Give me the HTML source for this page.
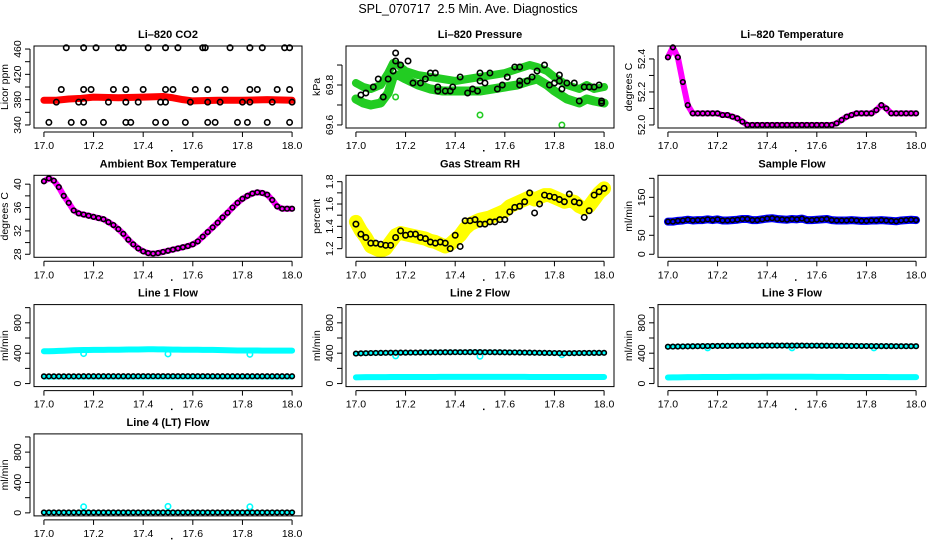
<!DOCTYPE html>
<html><head><meta charset="utf-8">
<style>
html,body{margin:0;padding:0;background:#fff;}
svg{display:block;font-family:"Liberation Sans",Arial,sans-serif;}
</style></head>
<body>
<svg id="c" width="936" height="540" viewBox="0 0 936 540">
<text x="468" y="13" text-anchor="middle" font-size="12.5" xml:space="preserve" style="white-space:pre">SPL_070717  2.5 Min. Ave. Diagnostics</text>
</svg>
<script>
// shared time axis (hour of day)
const T = [17.00,17.02,17.04,17.06,17.08,17.10,17.12,17.14,17.16,17.18,17.20,17.22,17.24,17.26,17.28,17.30,17.32,17.34,17.36,17.38,17.40,17.42,17.44,17.46,17.48,17.50,17.52,17.54,17.56,17.58,17.60,17.62,17.64,17.66,17.68,17.70,17.72,17.74,17.76,17.78,17.80,17.82,17.84,17.86,17.88,17.90,17.92,17.94,17.96,17.98,18.00];
const xTicks = [17.0,17.2,17.4,17.6,17.8,18.0];
const xTickLabels = ["17.0","17.2","17.4","17.6","17.8","18.0"];

// CO2
const co2BandT = [17.00,17.05,17.10,17.15,17.20,17.30,17.40,17.48,17.52,17.56,17.60,17.70,17.80,17.90,18.00];
const co2BandV = [379,379,381,382,384,383,384,385,383,380,378,379,379,380,379];
const co2T = [17.09,17.16,17.21,17.30,17.32,17.42,17.49,17.54,17.64,17.65,17.75,17.83,17.88,17.97,17.99,
 17.07,17.16,17.19,17.28,17.33,17.40,17.49,17.52,17.61,17.66,17.73,17.83,17.86,17.94,17.99,
 17.05,17.14,17.16,17.26,17.33,17.38,17.47,17.49,17.59,17.66,17.71,17.80,17.83,17.92,18.00,
 17.02,17.11,17.16,17.24,17.33,17.35,17.45,17.49,17.57,17.66,17.69,17.78,17.82,17.90,17.99];
const co2V = [462,462,462,462,462,462,462,462,462,462,462,462,462,462,462,
 396,396,396,396,396,396,396,396,396,396,396,396,396,396,396,
 376,376,376,376,376,376,376,376,376,376,376,376,376,376,376,
 344,344,344,344,344,344,344,344,344,344,344,344,344,344,344];

// Pressure
const presUpT = [17.00,17.03,17.06,17.10,17.13,17.15,17.17,17.20,17.25,17.30,17.35,17.40,17.45,17.50,17.55,17.60,17.65,17.70,17.73,17.77,17.80,17.85,17.90,17.93,17.96,18.00];
const presUpV = [69.81,69.79,69.78,69.80,69.86,69.91,69.90,69.87,69.85,69.84,69.83,69.82,69.83,69.84,69.85,69.86,69.88,69.90,69.89,69.87,69.84,69.80,69.78,69.80,69.78,69.79];
const presLoT = [17.00,17.03,17.06,17.10,17.13,17.15,17.17,17.20,17.25,17.30,17.35,17.40,17.45,17.50,17.55,17.60,17.65,17.70,17.73,17.77,17.80,17.85,17.90,17.93,17.96,18.00];
const presLoV = [69.73,69.71,69.70,69.71,69.76,69.84,69.85,69.83,69.80,69.78,69.77,69.77,69.77,69.77,69.78,69.79,69.80,69.82,69.83,69.80,69.77,69.73,69.71,69.73,69.72,69.71];
const presBT = [17.02,17.04,17.07,17.09,17.11,17.13,17.15,17.16,17.16,17.18,17.21,17.23,17.26,17.28,17.30,17.32,17.33,17.33,17.36,17.38,17.39,17.42,17.45,17.47,17.49,17.50,17.50,17.52,17.54,17.57,17.59,17.61,17.64,17.66,17.66,17.66,17.69,17.71,17.73,17.76,17.78,17.80,17.82,17.82,17.83,17.85,17.88,17.90,17.92,17.94,17.96,17.98,17.99,17.99];
const presBV = [69.75,69.76,69.79,69.83,69.74,69.83,69.87,69.96,69.92,69.90,69.92,69.81,69.81,69.83,69.86,69.86,69.79,69.77,69.77,69.77,69.79,69.84,69.76,69.78,69.77,69.86,69.82,69.81,69.86,69.78,69.80,69.84,69.89,69.89,69.82,69.80,69.82,69.84,69.87,69.90,69.80,69.81,69.85,69.82,69.78,69.81,69.81,69.72,69.79,69.79,69.79,69.80,69.71,69.72];
const presOutT = [17.16,17.50,17.83];
const presOutV = [69.74,69.65,69.60];

// Li-820 temperature
const tempV = [52.41,52.47,52.41,52.26,52.12,52.07,52.07,52.07,52.07,52.07,52.07,52.06,52.06,52.05,52.04,52.02,52.00,
 52.00,52.00,52.00,52.00,52.00,52.00,52.00,52.00,52.00,52.00,52.00,52.00,52.00,52.00,52.00,52.00,52.00,
 52.01,52.03,52.05,52.06,52.07,52.07,52.07,52.07,52.09,52.12,52.10,52.07,52.07,52.07,52.07,52.07,52.07];

// Ambient box temperature
const ambV = [40.5,41.0,40.6,39.5,38.0,36.8,35.5,35.0,34.8,34.6,34.4,34.2,34.0,33.5,33.0,32.3,31.5,30.5,29.7,29.0,28.5,28.2,28.1,28.2,28.4,28.6,28.8,29.0,29.2,29.4,29.7,30.2,31.0,31.8,32.6,33.4,34.3,35.1,36.0,36.8,37.5,38.0,38.4,38.6,38.5,38.2,37.3,36.2,35.8,35.8,35.8];

// Gas stream RH
const rhV = [1.42,1.33,1.30,1.25,1.25,1.24,1.23,1.23,1.30,1.36,1.32,1.33,1.33,1.30,1.29,1.26,1.25,1.26,1.25,1.20,1.32,1.22,1.45,1.45,1.46,1.42,1.42,1.44,1.44,1.46,1.46,1.53,1.57,1.58,1.62,1.70,1.52,1.60,1.68,1.67,1.66,1.64,1.62,1.69,1.62,1.61,1.48,1.54,1.68,1.71,1.74];
const rhBand = [1.44,1.36,1.30,1.22,1.20,1.18,1.20,1.26,1.32,1.34,1.33,1.32,1.31,1.30,1.29,1.27,1.26,1.24,1.22,1.24,1.28,1.32,1.38,1.42,1.44,1.46,1.47,1.48,1.50,1.52,1.54,1.58,1.60,1.62,1.64,1.66,1.64,1.66,1.68,1.68,1.66,1.64,1.62,1.63,1.62,1.58,1.56,1.58,1.64,1.70,1.74];

// Sample flow
const sampV = [86,86,88,89,91,89,90,90,92,90,92,89,89,90,91,93,93,90,90,92,94,95,93,92,91,93,92,94,90,90,91,92,93,90,89,89,89,90,89,88,88,89,89,90,89,88,87,89,90,91,90];

// Line flows
const l1High = [425,425,428,430,432,435,438,440,442,442,443,444,444,445,446,446,447,448,448,449,450,452,452,451,450,448,447,447,446,446,445,445,444,444,443,442,440,438,437,436,436,436,435,435,434,434,434,434,434,434,434];
const l1Low = [85,86,86,86,86,86,86,86,86,86,86,86,86,86,86,86,86,86,86,86,86,86,86,86,86,86,86,86,86,86,86,86,86,86,86,86,86,86,86,86,86,86,86,86,86,86,86,86,86,86,86];
const l1Black = [95,95,95,95,95,95,95,95,96,96,96,96,96,96,96,96,96,96,96,97,97,97,97,97,97,97,97,97,97,97,97,97,97,97,96,96,96,96,96,96,96,96,96,96,96,96,96,96,96,96,96];
const l2Black = [395,398,400,402,403,404,405,406,406,407,407,408,408,409,410,410,411,411,412,412,413,413,413,414,414,414,413,413,412,412,411,410,410,409,408,407,406,405,404,403,402,401,400,400,401,402,403,403,404,404,405];
const l2Low = [82,83,84,84,85,85,85,86,86,86,86,86,87,87,87,87,87,88,88,88,88,88,88,88,88,88,88,88,88,88,88,88,88,88,88,87,87,87,87,87,86,86,86,86,86,86,86,86,86,86,86];
const l3Black = [485,487,488,489,490,491,492,493,494,495,495,496,496,497,497,498,498,499,499,499,500,500,500,500,500,500,500,500,499,499,499,498,498,497,497,496,496,495,495,494,494,494,493,493,493,493,492,492,492,492,492];
const l3Low = [80,81,82,83,84,84,85,86,86,86,87,87,87,88,88,88,88,88,88,89,89,89,89,89,89,89,89,89,89,89,88,88,88,88,88,88,87,87,87,87,86,86,86,86,86,85,85,85,85,85,85];
const l4Black = [5,5,5,5,5,5,5,5,5,5,5,5,5,5,5,5,5,5,5,5,5,5,5,5,5,5,5,5,5,5,5,5,5,5,5,5,5,5,5,5,5,5,5,5,5,5,5,5,5,5,5];
const lineOutT = [17.16,17.50,17.83];
const l1OutV = [395,390,385];
const l2OutV = [365,360,380];
const l3OutV = [470,470,470];
const l4OutV = [80,85,80];

const NS = "http://www.w3.org/2000/svg";
const svg = document.getElementById("c");
function mk(tag, attrs, parent) {
  const e = document.createElementNS(NS, tag);
  for (const k in attrs) e.setAttribute(k, attrs[k]);
  (parent || svg).appendChild(e);
  return e;
}

function panel(col, row, opts) {
  const g = mk("g", {});
  
  
  const x0 = 34 + 312 * col, w = 268;
  const y0 = 46 + 129.3 * row, h = 82;
  const xl = 17.0, xr = 18.0, xp = (xr - xl) * 0.04;
  const yl = opts.ylim[0], yh = opts.ylim[1], yp = (yh - yl) * 0.04;
  const sx = v => x0 + (v - (xl - xp)) / ((xr - xl) + 2 * xp) * w;
  const sy = v => y0 + h - (v - (yl - yp)) / ((yh - yl) + 2 * yp) * h;
  const t = mk("text", {x: x0 + w / 2, y: y0 - 8, "text-anchor": "middle", "font-size": "11", "font-weight": "bold"}, g);
  t.textContent = opts.title;
  
  
  const clip = mk("g", {}, g);
  opts.draw(clip, sx, sy);
  const box = mk("rect", {x: x0, y: y0, width: w, height: h, fill: "none", stroke: "#000", "stroke-width": "1"}, g);
  
  
  // x axis
  const xa = mk("g", {}, g);
  
  
  mk("line", {x1: sx(17.0), x2: sx(18.0), y1: y0 + h + 4, y2: y0 + h + 4, stroke: "#000"}, xa);
  xTicks.forEach((v, i) => {
    mk("line", {x1: sx(v), x2: sx(v), y1: y0 + h + 4, y2: y0 + h + 9, stroke: "#000"}, xa);
    const tl = mk("text", {x: sx(v), y: y0 + h + 21, "text-anchor": "middle", "font-size": "10.5"}, xa);
    tl.textContent = xTickLabels[i];
    
    
  });
  mk("rect", {x: x0 + w / 2 + 3, y: y0 + h + 22, width: 1.5, height: 1.5, fill: "#000"}, xa);
  // y axis
  const ya = mk("g", {}, g);
  
  
  const yt = opts.yticks;
  mk("line", {x1: x0 - 4, x2: x0 - 4, y1: sy(yt[0]), y2: sy(yt[yt.length - 1]), stroke: "#000"}, ya);
  yt.forEach(v => {
    mk("line", {x1: x0 - 4, x2: x0 - 9, y1: sy(v), y2: sy(v), stroke: "#000"}, ya);
  });
  opts.ylabels.forEach((v, i) => {
    const yy = sy(v), xx = x0 - 13;
    const tl = mk("text", {x: xx, y: yy, "text-anchor": "middle", "font-size": "10.5", transform: "rotate(-90 " + xx + " " + yy + ")"}, ya);
    tl.textContent = opts.ylabelText[i];
    
    
  });
  const yx = x0 - 26, yy = y0 + h / 2;
  const ylab = mk("text", {x: yx, y: yy, "text-anchor": "middle", "font-size": "10.5", transform: "rotate(-90 " + yx + " " + yy + ")"}, ya);
  ylab.textContent = opts.ylab;
  
  
}

function band(g, xs, ys, sx, sy, color, width, name) {
  const p = mk("polyline", {points: xs.map((x, i) => sx(x) + "," + sy(ys[i])).join(" "), fill: "none", stroke: color, "stroke-width": width, "stroke-linejoin": "round", "stroke-linecap": "round"}, g);
  
  
}
function pts(g, xs, ys, sx, sy, color, name, r) {
  xs.forEach((x, i) => {
    const c = mk("circle", {cx: sx(x), cy: sy(ys[i]), r: r || 2.7, fill: "none", stroke: color, "stroke-width": "1.6"}, g);
    
    
  });
}

panel(0, 0, {name: "co2-panel", title: "Li\u2013820 CO2", ylab: "Licor ppm", ylim: [340, 460],
  yticks: [340, 360, 380, 400, 420, 440, 460], ylabels: [340, 380, 420, 460], ylabelText: ["340", "380", "420", "460"],
  draw: (g, sx, sy) => { band(g, co2BandT, co2BandV, sx, sy, "#ff0000", 7, "co2-series"); pts(g, co2T, co2V, sx, sy, "#000", "co2-point"); }});

panel(1, 0, {name: "pressure-panel", title: "Li\u2013820 Pressure", ylab: "kPa", ylim: [69.6, 69.98],
  yticks: [69.6, 69.7, 69.8, 69.9], ylabels: [69.6, 69.8], ylabelText: ["69.6", "69.8"],
  draw: (g, sx, sy) => {
    band(g, presUpT, presUpV, sx, sy, "#22cc22", 8, "pressure-upper-band");
    band(g, presLoT, presLoV, sx, sy, "#22cc22", 9, "pressure-lower-band");
    pts(g, presOutT, presOutV, sx, sy, "#22cc22", "pressure-outlier");
    pts(g, presBT, presBV, sx, sy, "#000", "pressure-point"); }});

panel(2, 0, {name: "li820-temp-panel", title: "Li\u2013820 Temperature", ylab: "degrees C", ylim: [52.0, 52.46],
  yticks: [52.0, 52.1, 52.2, 52.3, 52.4], ylabels: [52.0, 52.2, 52.4], ylabelText: ["52.0", "52.2", "52.4"],
  draw: (g, sx, sy) => { band(g, T, tempV, sx, sy, "#ff00ff", 6, "temp-series"); pts(g, T, tempV, sx, sy, "#000", "temp-point", 2.3); }});

panel(0, 1, {name: "ambient-temp-panel", title: "Ambient Box Temperature", ylab: "degrees C", ylim: [28.0, 41.0],
  yticks: [28, 30, 32, 34, 36, 38, 40], ylabels: [28, 32, 36, 40], ylabelText: ["28", "32", "36", "40"],
  draw: (g, sx, sy) => { band(g, T, ambV, sx, sy, "#ff00ff", 6, "ambient-series"); pts(g, T, ambV, sx, sy, "#000", "ambient-point", 2.3); }});

panel(1, 1, {name: "rh-panel", title: "Gas Stream RH", ylab: "percent", ylim: [1.15, 1.83],
  yticks: [1.2, 1.3, 1.4, 1.5, 1.6, 1.7, 1.8], ylabels: [1.2, 1.4, 1.6, 1.8], ylabelText: ["1.2", "1.4", "1.6", "1.8"],
  draw: (g, sx, sy) => { band(g, T, rhBand, sx, sy, "#ffff00", 14, "rh-band"); pts(g, T, rhV, sx, sy, "#000", "rh-point"); }});

panel(2, 1, {name: "sample-flow-panel", title: "Sample Flow", ylab: "ml/min", ylim: [0, 200],
  yticks: [0, 50, 100, 150, 200], ylabels: [0, 50, 150], ylabelText: ["0", "50", "150"],
  draw: (g, sx, sy) => { band(g, T, sampV, sx, sy, "#0000ff", 8, "sample-flow-series"); pts(g, T, sampV, sx, sy, "#000", "sample-flow-point", 2.3); }});

const flowTicks = [0, 200, 400, 600, 800, 1000];
panel(0, 2, {name: "line1-flow-panel", title: "Line 1 Flow", ylab: "ml/min", ylim: [0, 1000],
  yticks: flowTicks, ylabels: [0, 400, 800], ylabelText: ["0", "400", "800"],
  draw: (g, sx, sy) => { band(g, T, l1High, sx, sy, "#00ffff", 6, "line1-high-series"); band(g, T, l1Low, sx, sy, "#00ffff", 5, "line1-low-series");
    pts(g, lineOutT, l1OutV, sx, sy, "#00ffff", "line1-outlier"); pts(g, T, l1Black, sx, sy, "#000", "line1-point", 2.3); }});

panel(1, 2, {name: "line2-flow-panel", title: "Line 2 Flow", ylab: "ml/min", ylim: [0, 1000],
  yticks: flowTicks, ylabels: [0, 400, 800], ylabelText: ["0", "400", "800"],
  draw: (g, sx, sy) => { band(g, T, l2Low, sx, sy, "#00ffff", 6, "line2-low-series"); band(g, T, l2Black, sx, sy, "#00ffff", 5, "line2-high-series");
    pts(g, lineOutT, l2OutV, sx, sy, "#00ffff", "line2-outlier"); pts(g, T, l2Black, sx, sy, "#000", "line2-point", 2.3); }});

panel(2, 2, {name: "line3-flow-panel", title: "Line 3 Flow", ylab: "ml/min", ylim: [0, 1000],
  yticks: flowTicks, ylabels: [0, 400, 800], ylabelText: ["0", "400", "800"],
  draw: (g, sx, sy) => { band(g, T, l3Low, sx, sy, "#00ffff", 6, "line3-low-series"); band(g, T, l3Black, sx, sy, "#00ffff", 5, "line3-high-series");
    pts(g, lineOutT, l3OutV, sx, sy, "#00ffff", "line3-outlier"); pts(g, T, l3Black, sx, sy, "#000", "line3-point", 2.3); }});

panel(0, 3, {name: "line4-flow-panel", title: "Line 4 (LT) Flow", ylab: "ml/min", ylim: [0, 1000],
  yticks: flowTicks, ylabels: [0, 400, 800], ylabelText: ["0", "400", "800"],
  draw: (g, sx, sy) => { band(g, T, l4Black, sx, sy, "#00ffff", 5, "line4-series");
    pts(g, lineOutT, l4OutV, sx, sy, "#00ffff", "line4-outlier"); pts(g, T, l4Black, sx, sy, "#000", "line4-point", 2.3); }});
</script>
</body></html>
